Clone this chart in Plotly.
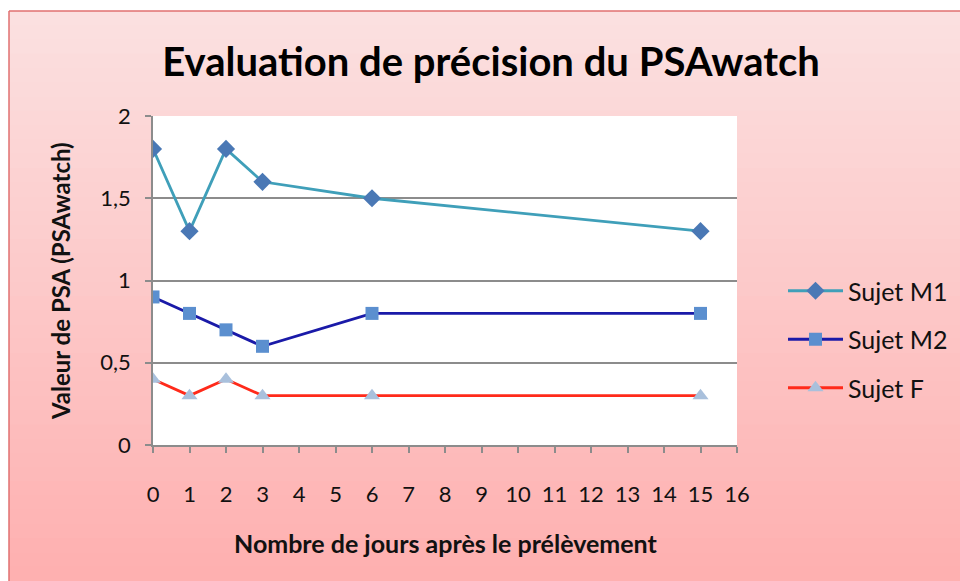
import plotly.graph_objects as go

days = [0, 1, 2, 3, 6, 15]
sujet_m1 = [1.8, 1.3, 1.8, 1.6, 1.5, 1.3]
sujet_m2 = [0.9, 0.8, 0.7, 0.6, 0.8, 0.8]
sujet_f = [0.4, 0.3, 0.4, 0.3, 0.3, 0.3]
series_names = ["Sujet M1", "Sujet M2", "Sujet F"]
x_ticks = list(range(0, 17))
y_ticks = [0, 0.5, 1, 1.5, 2]

W, H = 960, 581
# plot area in reference pixel coordinates
PL, PR, PT, PB = 153, 737, 116, 445
L, T = PL, PT
R, B = W - PR, H - PB
pw, ph = W - L - R, H - T - B

def px(x):
    return (x - L) / pw

def py(y):
    return (H - B - y) / ph

fig = go.Figure()
fig.add_trace(go.Scatter(x=days, y=sujet_m1, name=series_names[0], mode="lines+markers",
                         line=dict(color="#3f9fb9", width=2.8),
                         marker=dict(symbol="diamond", size=14, color="#4a78b5"),
                         legendgroup="a"))
fig.add_trace(go.Scatter(x=days, y=sujet_m2, name=series_names[1], mode="lines+markers",
                         line=dict(color="#1a1aa8", width=2.8),
                         marker=dict(symbol="square", size=13, color="#5b8fcf"),
                         legendgroup="b"))
fig.add_trace(go.Scatter(x=days, y=sujet_f, name=series_names[2], mode="lines+markers",
                         line=dict(color="#ff2a1a", width=2.8),
                         marker=dict(symbol="triangle-up", size=14, color="#a9c0dc"),
                         legendgroup="c"))

shapes = []
top_px, bot_px, left_px, right_px = 11, 581, 9, 960
n = 40
c0 = (251, 224, 224)
c1 = (254, 176, 176)
for i in range(n):
    y0 = top_px + (bot_px - top_px) * i / n
    y1 = top_px + (bot_px - top_px) * (i + 1) / n + 1
    t = i / (n - 1)
    col = tuple(int(round(c0[k] + (c1[k] - c0[k]) * t)) for k in range(3))
    shapes.append(dict(type="rect", xref="paper", yref="paper", layer="below",
                       x0=px(left_px), x1=px(right_px),
                       y0=py(min(y1, bot_px)), y1=py(y0),
                       fillcolor="rgb(%d,%d,%d)" % col, line=dict(width=0)))
border = dict(color="#e07070", width=1.5)
shapes.append(dict(type="line", xref="paper", yref="paper", layer="below",
                   x0=px(left_px), x1=px(left_px), y0=py(bot_px), y1=py(top_px), line=border))
shapes.append(dict(type="line", xref="paper", yref="paper", layer="below",
                   x0=px(left_px), x1=px(right_px), y0=py(top_px), y1=py(top_px), line=border))
shapes.append(dict(type="rect", xref="x domain", yref="y domain", layer="below",
                   x0=0, x1=1, y0=0, y1=1, fillcolor="white", line=dict(width=0)))

font_family = "Lato, 'Open Sans', sans-serif"
annotations = [
    dict(text="<b>Nombre de jours après le prélèvement</b>", xref="paper", yref="paper",
         x=px(446), y=py(543), xanchor="center", yanchor="middle", showarrow=False,
         font=dict(size=25, color="#111111")),
    dict(text="<b>Valeur de PSA (PSAwatch)</b>", xref="paper", yref="paper",
         x=px(60), y=py(281), xanchor="center", yanchor="middle", showarrow=False,
         textangle=-90, font=dict(size=24, color="#111111")),
]

fig.update_layout(
    width=W, height=H,
    margin=dict(l=L, r=R, t=T, b=B, pad=0, autoexpand=False),
    paper_bgcolor="white", plot_bgcolor="white",
    separators=", ",
    shapes=shapes,
    annotations=annotations,
    font=dict(family=font_family, color="#111111", size=22),
    title=dict(text="<b>Evaluation de précision du PSAwatch</b>", x=px(491), xanchor="center",
               xref="paper", y=1 - 62 / H, yanchor="middle",
               font=dict(size=40, color="#000000")),
    legend=dict(x=px(783), y=py(268), xanchor="left", yanchor="top",
                bgcolor="rgba(0,0,0,0)", font=dict(size=25, color="#111111"),
                tracegroupgap=13, itemwidth=55),
    showlegend=True,
)
fig.update_xaxes(range=[0, 16], tickvals=x_ticks, showgrid=False, zeroline=False,
                 showline=True, linecolor="#8c8c8c", linewidth=1.5,
                 ticks="outside", ticklen=6, tickcolor="#8c8c8c", tickwidth=1.5,
                 ticklabelstandoff=23, tickfont=dict(size=22))
fig.update_yaxes(range=[0, 2], tickvals=y_ticks, showgrid=True, gridcolor="#8c8c8c",
                 gridwidth=1.5, zeroline=False,
                 showline=True, linecolor="#8c8c8c", linewidth=1.5,
                 ticks="outside", ticklen=6, tickcolor="#8c8c8c", tickwidth=1.5,
                 ticklabelstandoff=10, tickfont=dict(size=22))

fig.write_html("out.html", config={"displayModeBar": False},
               post_script="document.body.style.margin='0';document.body.style.overflow='hidden';")
